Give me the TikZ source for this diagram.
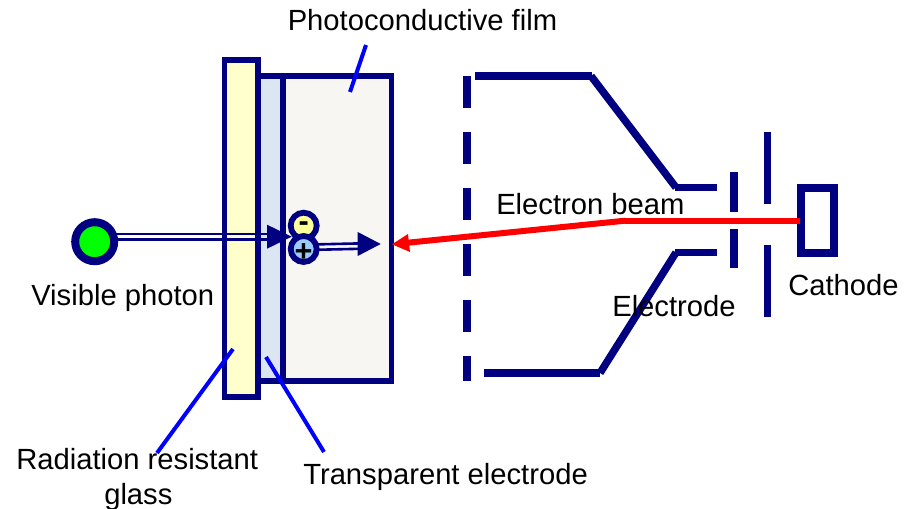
\documentclass[tikz,border=0pt]{standalone}
\usepackage{fontspec}
\setmainfont{Liberation Sans}
\usetikzlibrary{arrows.meta}
\definecolor{navy}{RGB}{0,0,128}
\definecolor{paleyellow}{RGB}{255,255,204}
\definecolor{paleblue}{RGB}{220,230,242}
\definecolor{filmgrey}{RGB}{247,246,243}
\definecolor{minusfill}{RGB}{255,255,153}
\definecolor{plusfill}{RGB}{153,204,255}
\tikzset{
  x=0.75pt,y=-0.75pt,
  px/.style={line width=#1*0.75pt},
  box/.style={draw=navy,px=5.8,line join=miter},
  gun/.style={draw=navy,px=7.5},
  plate/.style={draw=navy,px=7.5},
  leader/.style={draw=blue,px=4},
  label/.style={inner sep=0pt,font=\fontsize{21.9}{26}\selectfont,text=black},
  particle/.style={circle,draw=navy,inner sep=0pt,minimum size=26*0.75pt,px=5.8},
  sign/.style={inner sep=0pt,font=\fontsize{23}{23}\selectfont\bfseries,text=black},
}
\begin{document}
\begin{tikzpicture}
\useasboundingbox (0,0) rectangle (910,509);
% film stack
\draw[box,fill=filmgrey] (283,76) rectangle (391.5,381);
\draw[box,fill=paleblue] (258,76) rectangle (283,381);
\draw[box,fill=paleyellow] (224.5,60) rectangle (258,397);
% photon
\node[circle,draw=navy,fill=green,px=8,minimum size=39*0.75pt,inner sep=0pt] (photon) at (94.7,241.7) {};
\node[particle,fill=minusfill] (minus) at (303.7,225.7) {};
\node[particle,fill=plusfill] (plus) at (303.7,249) {};
\node[sign] at (303.7,227) {-};
\node[sign] at (303.7,252.5) {+};
\coordinate (hit) at (291.7,236.7);
\coordinate (out) at (380.7,244);
\coordinate (filmface) at (392,244.3);
\coordinate (bend) at (625,220.7);
\coordinate (cathodeface) at (800,220.7);
\draw[draw=navy,px=2.6] (115,234) -- (270,234);
\draw[draw=navy,px=2.6] (115,239.4) -- (270,239.4);
\fill[navy] (hit) -- (267,224.7) -- (267,248.7) -- cycle;
\draw[draw=navy,px=2.6] (316,244.4) -- (360,243.4);
\draw[draw=navy,px=2.6] (316,249.8) -- (360,248.8);
\fill[navy] (out) -- (357.7,232) -- (357.7,256) -- cycle;
% gun
\draw[gun] (475,76) -- (592,76);
\draw[gun] (591,76) -- (676,187.5);
\draw[gun] (675,187.5) -- (717,187.5);
\draw[gun] (484,373) -- (600,373);
\draw[gun] (600,373) -- (676,252.5);
\draw[gun] (675,252.5) -- (717,252.5);
\foreach \a/\b in {76/108,132/164,188/220,244/276,300/332,356/381}{
  \draw[draw=navy,px=8] (466.7,\a) -- (466.7,\b);
}
\draw[plate] (734,172) -- (734,212);
\draw[plate] (734,229) -- (734,268);
\draw[plate] (767.5,132) -- (767.5,204);
\draw[plate] (767.5,245) -- (767.5,317);
\draw[navy,px=8] (801,188) rectangle (834,253);
% beam
\draw[draw=red,px=6] (cathodeface) -- (bend);
\draw[draw=red,px=6] (bend) -- (405,243);
\fill[red] (filmface) -- (408,234) -- (410,252) -- cycle;
% leaders
\coordinate (a1) at (366,45); \coordinate (a2) at (350,92);
\coordinate (b1) at (233,349); \coordinate (b2) at (157,453);
\coordinate (c1) at (266,357); \coordinate (c2) at (324,452);
\draw[leader] (a1) -- (a2);
\draw[leader] (b1) -- (b2);
\draw[leader] (c1) -- (c2);
% labels
\node[label,anchor=base west] (t1) at (287.5,31) {Photoconductive film};
\node[label,anchor=base west] (t2) at (31,306) {Visible photon};
\node[label,anchor=base west] (t3) at (496,214.5) {Electron beam};
\node[label,anchor=base west] (t4) at (612,317) {Electrode};
\node[label,anchor=base west] (t5) at (788,296) {Cathode};
\node[label,anchor=base west] (t6) at (16,469) {Radiation resistant};
\node[label,anchor=base west] (t7) at (104,504) {glass};
\node[label,anchor=base west] (t8) at (303,484) {Transparent electrode};
\end{tikzpicture}
\end{document}
